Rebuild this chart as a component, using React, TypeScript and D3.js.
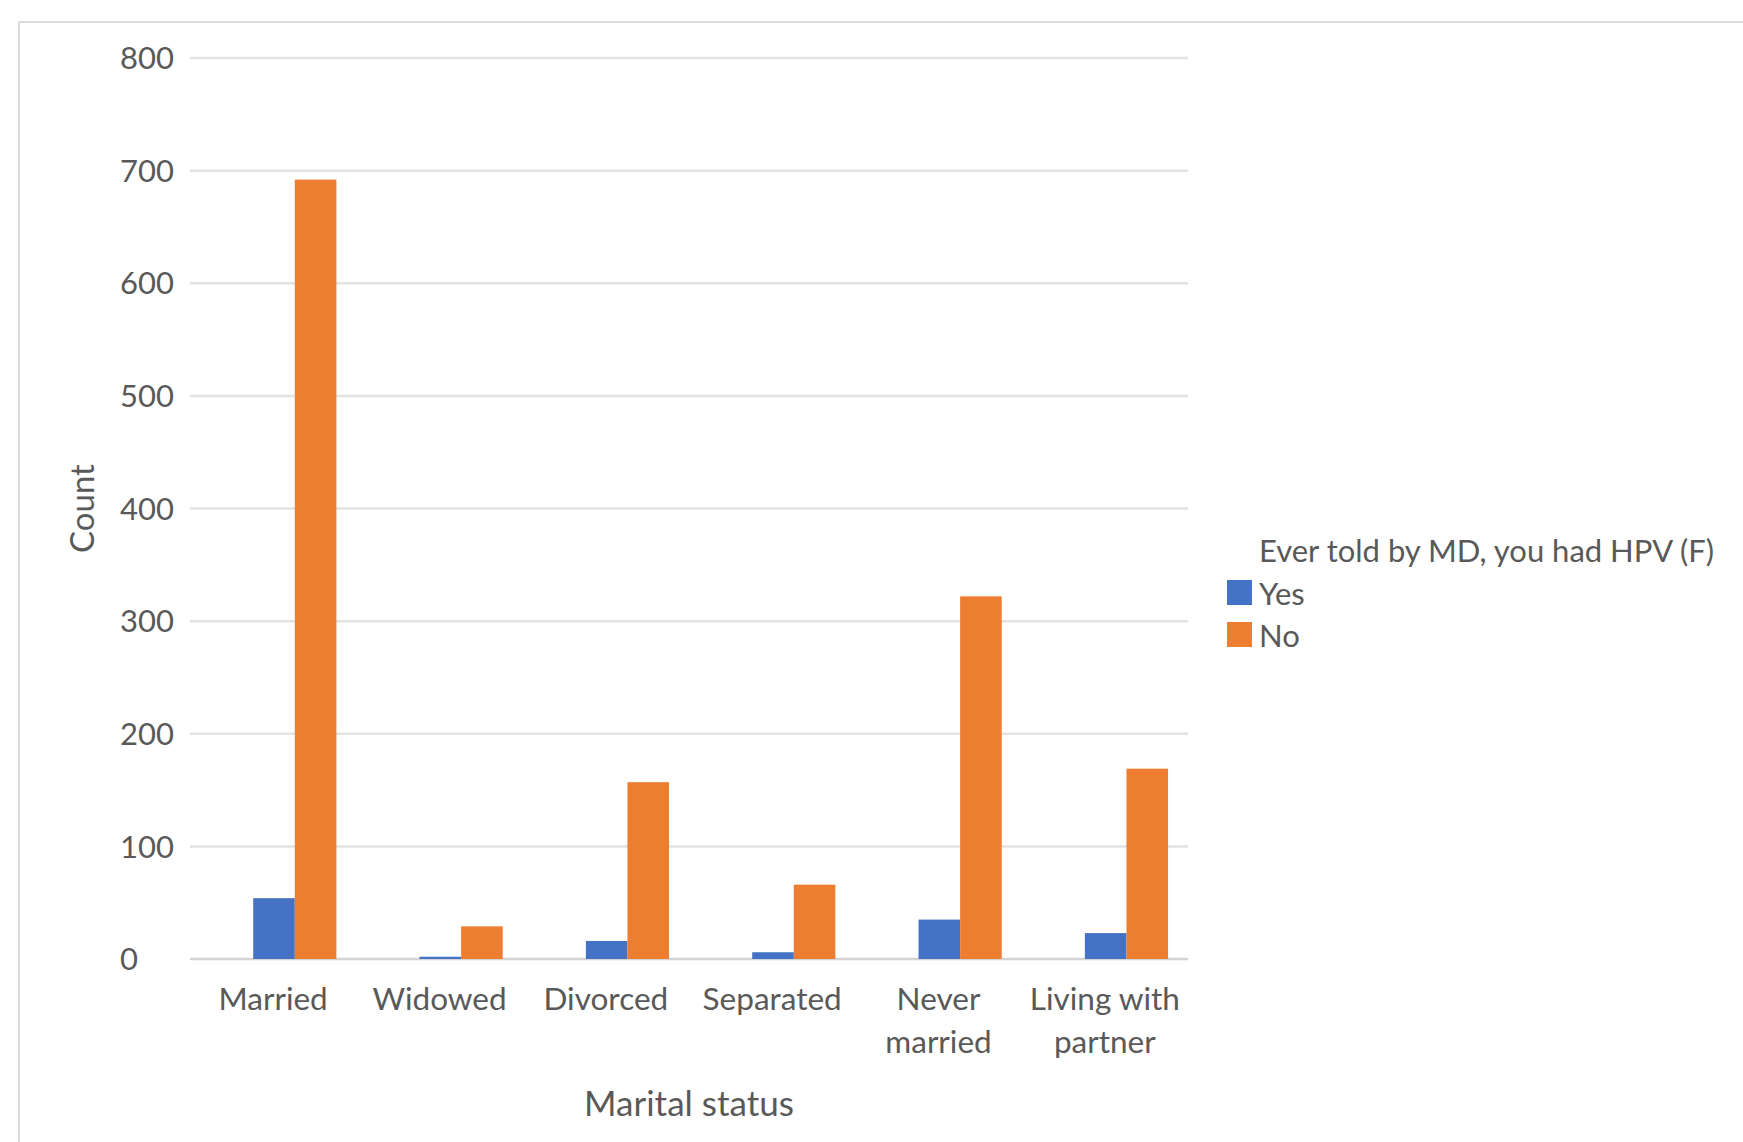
import React, { useEffect, useRef } from 'react';
import * as d3 from 'd3';

// data
const categories = ['Married', 'Widowed', 'Divorced', 'Separated', 'Never married', 'Living with partner'];
const categoryLines = [['Married'], ['Widowed'], ['Divorced'], ['Separated'], ['Never', 'married'], ['Living with', 'partner']];
const seriesNames = ['Yes', 'No'];
const yesCounts = [54, 2, 16, 6, 35, 23];
const noCounts = [692, 29, 157, 66, 322, 169];
const yTicks = [0, 100, 200, 300, 400, 500, 600, 700, 800];

const colors = { Yes: '#4472C4', No: '#ED7D31' };
const font = 'Lato, "Open Sans", sans-serif';
const textColor = '#595959';

const App = () => {
  const ref = useRef<SVGSVGElement | null>(null);

  useEffect(() => {
    const svg = d3.select(ref.current);
    svg.selectAll('*').remove();

    const width = 1743;
    const height = 1142;
    const plot = { left: 190, right: 1188, top: 58, bottom: 959 };

    svg.attr('width', width).attr('height', height);

    svg.append('rect')
      .attr('width', width).attr('height', height)
      .attr('fill', '#fff');

    // chart frame
    svg.append('rect')
      .attr('x', 19).attr('y', 22)
      .attr('width', width).attr('height', height)
      .attr('fill', 'none')
      .attr('stroke', '#dcdcdc')
      .attr('stroke-width', 2);

    const x = d3.scaleBand()
      .domain(categories)
      .range([plot.left, plot.right])
      .padding(0);

    // bar group sits a little right of the band centre, as in the source
    const xInner = d3.scaleBand()
      .domain(seriesNames)
      .range([x.bandwidth() * 0.38, x.bandwidth() * 0.88])
      .padding(0);

    const y = d3.scaleLinear()
      .domain([0, 800])
      .range([plot.bottom, plot.top]);

    // gridlines
    svg.append('g')
      .selectAll('line')
      .data(yTicks)
      .enter()
      .append('line')
      .attr('x1', plot.left)
      .attr('x2', plot.right)
      .attr('y1', d => y(d))
      .attr('y2', d => y(d))
      .attr('stroke', d => (d === 0 ? '#d4d4d4' : '#e2e2e2'))
      .attr('stroke-width', 2.5);

    // y tick labels (left aligned like the source)
    svg.append('g')
      .selectAll('text')
      .data(yTicks)
      .enter()
      .append('text')
      .attr('x', 120)
      .attr('y', d => y(d))
      .attr('dy', '0.36em')
      .attr('font-family', font)
      .attr('font-size', 31)
      .attr('fill', textColor)
      .text(d => d);

    // bars
    const rows = categories.map((c, i) => ({ c, Yes: yesCounts[i], No: noCounts[i] }));
    const groups = svg.append('g')
      .selectAll('g')
      .data(rows)
      .enter()
      .append('g')
      .attr('transform', d => `translate(${x(d.c)},0)`);

    groups.selectAll('rect')
      .data(d => seriesNames.map(s => ({ s, v: d[s] })))
      .enter()
      .append('rect')
      .attr('x', d => xInner(d.s))
      .attr('y', d => y(d.v))
      .attr('width', xInner.bandwidth())
      .attr('height', d => plot.bottom - y(d.v))
      .attr('fill', d => colors[d.s]);

    // category labels
    const labels = svg.append('g')
      .selectAll('text')
      .data(categories)
      .enter()
      .append('text')
      .attr('x', d => x(d) + x.bandwidth() / 2)
      .attr('y', 1010)
      .attr('text-anchor', 'middle')
      .attr('font-family', font)
      .attr('font-size', 31.5)
      .attr('fill', textColor);

    labels.selectAll('tspan')
      .data((d, i) => categoryLines[i])
      .enter()
      .append('tspan')
      .attr('x', function () {
        return d3.select(this.parentNode).attr('x');
      })
      .attr('dy', (d, i) => (i === 0 ? 0 : 43))
      .text(d => d);

    // axis titles
    svg.append('text')
      .attr('x', (plot.left + plot.right) / 2)
      .attr('y', 1116)
      .attr('text-anchor', 'middle')
      .attr('font-family', font)
      .attr('font-size', 35)
      .attr('fill', textColor)
      .text('Marital status');

    svg.append('text')
      .attr('transform', `translate(94, ${(plot.top + plot.bottom) / 2}) rotate(-90)`)
      .attr('text-anchor', 'middle')
      .attr('font-family', font)
      .attr('font-size', 33)
      .attr('fill', textColor)
      .text('Count');

    // legend
    const legend = svg.append('g');
    legend.append('text')
      .attr('x', 1259)
      .attr('y', 562)
      .attr('font-family', font)
      .attr('font-size', 31)
      .attr('fill', textColor)
      .text('Ever told by MD, you had HPV (F)');

    const items = legend.selectAll('g.item')
      .data(seriesNames)
      .enter()
      .append('g')
      .attr('class', 'item')
      .attr('transform', (d, i) => `translate(1227, ${580 + i * 42})`);

    items.append('rect')
      .attr('width', 25)
      .attr('height', 25)
      .attr('fill', d => colors[d]);

    items.append('text')
      .attr('x', 32)
      .attr('y', 25)
      .attr('font-family', font)
      .attr('font-size', 31)
      .attr('fill', textColor)
      .text(d => d);
  }, []);

  return (
    <svg ref={ref} style={{ position: 'absolute', left: 0, top: 0, display: 'block' }} />
  );
};

export default App;
